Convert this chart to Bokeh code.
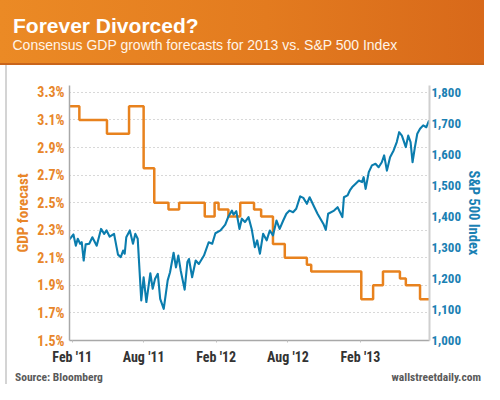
import numpy as np
from bokeh.plotting import figure
from bokeh.layouts import column
from bokeh.models import (Range1d, LinearAxis, FixedTicker, DatetimeTickFormatter,
                          NumeralTickFormatter, PrintfTickFormatter, Div)
from bokeh.embed import file_html
from bokeh.resources import INLINE

# ---------------- data ----------------
BASE_DATE = "2011-02-01"          # day offsets below are counted from this date

# consensus GDP growth forecast for 2013 (%), step series
gdp_days = [-7, 18, 88, 144, 181, 208, 244, 271, 336, 361, 371, 396, 426, 461, 479,
            509, 539, 595, 606, 733, 763, 788, 831, 846, 882, 907]
gdp_vals = [3.2, 3.1, 3.0, 3.2, 2.75, 2.5, 2.45, 2.5, 2.4, 2.5, 2.45, 2.4, 2.5, 2.45, 2.4,
            2.2, 2.1, 2.05, 2.0, 1.8, 1.9, 2.0, 1.95, 1.9, 1.8, 1.8]

# S&P 500 index level
sp_days = [-8, 3, 9, 14, 20, 24, 29, 34, 43, 51, 62, 73, 81, 87, 95, 106, 116, 123, 129, 133,
           137, 146, 154, 160, 166, 175, 181, 188, 198, 204, 210, 217, 223, 232, 242, 248, 257,
           263, 269, 275, 285, 292, 296, 304, 313, 321, 334, 346, 355, 363, 376, 388, 396, 405,
           409, 416, 424, 430, 438, 447, 455, 463, 469, 476, 484, 493, 501, 509, 518, 526, 535,
           543, 551, 560, 568, 578, 586, 595, 602, 614, 622, 637, 643, 649, 664, 673, 685, 689,
           698, 704, 710, 718, 727, 735, 739, 744, 752, 760, 769, 777, 785, 791, 798, 806, 815,
           823, 829, 836, 846, 852, 858, 863, 869, 875, 882, 890, 898, 905]
sp_vals = [1325, 1342, 1306, 1328, 1312, 1317, 1258, 1310, 1312, 1333, 1306, 1360, 1344, 1355,
           1335, 1344, 1277, 1269, 1290, 1280, 1333, 1355, 1312, 1344, 1328, 1129, 1204, 1124,
           1217, 1167, 1199, 1215, 1134, 1102, 1194, 1220, 1283, 1236, 1274, 1226, 1164, 1253,
           1263, 1204, 1258, 1247, 1274, 1317, 1312, 1346, 1355, 1374, 1400, 1419, 1406, 1417,
           1360, 1393, 1382, 1398, 1360, 1301, 1323, 1280, 1344, 1323, 1355, 1339, 1387, 1360,
           1387, 1409, 1419, 1414, 1425, 1465, 1460, 1441, 1462, 1430, 1409, 1376, 1357, 1409,
           1419, 1430, 1398, 1462, 1468, 1484, 1495, 1505, 1516, 1511, 1527, 1489, 1543, 1565,
           1570, 1559, 1575, 1597, 1548, 1591, 1613, 1640, 1672, 1661, 1624, 1661, 1640, 1575,
           1624, 1667, 1683, 1694, 1688, 1710]

x_tick_dates = ["2011-02-01", "2011-08-01", "2012-02-01", "2012-08-01", "2013-02-01"]
x_tick_labels = ["Feb '11", "Aug '11", "Feb '12", "Aug '12", "Feb '13"]
gdp_ticks = [1.5, 1.7, 1.9, 2.1, 2.3, 2.5, 2.7, 2.9, 3.1, 3.3]
sp_ticks = [1000, 1100, 1200, 1300, 1400, 1500, 1600, 1700, 1800]

title_text = "Forever Divorced?"
subtitle_text = "Consensus GDP growth forecasts for 2013 vs. S&amp;P 500 Index"
source_text = "Source: Bloomberg"
brand_text = "wallstreetdaily.com"

# ---------------- helpers ----------------
def days_to_ms(days):
    d = np.datetime64(BASE_DATE) + np.array(days, dtype="timedelta64[D]")
    return d.astype("datetime64[ms]").astype(np.int64).astype(float)

def dates_to_ms(dates):
    return np.array(dates, dtype="datetime64[D]").astype("datetime64[ms]").astype(np.int64).astype(float)

gdp_x = days_to_ms(gdp_days)
sp_x = days_to_ms(sp_days)
x_ticks_ms = dates_to_ms(x_tick_dates)
x_start, x_end = days_to_ms([-7, 906])

ORANGE = "#E8821E"
ORANGE_TXT = "#E8862A"
BLUE = "#0B7DAE"
BLUE_TXT = "#1A80B3"
COND = "Roboto Condensed, Noto Sans Condensed, Roboto"
COND_CSS = "'Roboto Condensed','Noto Sans Condensed',Roboto,sans-serif"
W = 484
HEAD_H, MAIN_H, FOOT_H = 65, 303, 16
CARD_EDGE = "linear-gradient(90deg,#ffffff 0px,#ffffff 5px,#d4d4d4 5px,#d4d4d4 7px,#ffffff 7px)"

# ---------------- header (HTML band) ----------------
header_html = (
    f'<div style="position:relative;width:{W}px;height:{HEAD_H}px;overflow:hidden;'
    'background:linear-gradient(90deg,#EB8A25 0%,#E37B1F 55%,#D8691A 100%);">'
    '<div style="position:absolute;left:0;right:0;bottom:0;height:2.5px;background:#C9651B;"></div>'
    '<div style="position:absolute;left:13px;top:15.2px;font:bold 21px/21px \'Liberation Sans\',sans-serif;'
    f'color:#ffffff;white-space:nowrap;">{title_text}</div>'
    '<div style="position:absolute;left:12.5px;top:37.6px;font:14px/14px \'Liberation Sans\',sans-serif;'
    f'color:#FFF4E8;white-space:nowrap;">{subtitle_text}</div>'
    '</div>')
head = Div(text=header_html, width=W, height=HEAD_H, margin=0)

# ---------------- main chart ----------------
p = figure(width=W, height=MAIN_H, output_backend="svg", toolbar_location=None,
           x_axis_type="datetime",
           x_range=Range1d(x_start, x_end), y_range=Range1d(1.5, 3.35),
           min_border_left=69, min_border_right=51, min_border_top=20, min_border_bottom=28,
           background_fill_color="white", border_fill_color="white", border_fill_alpha=0,
           outline_line_color=None, styles={"background": CARD_EDGE})
p.extra_y_ranges = {"sp": Range1d(1000, 1822.6)}

ax = p.xaxis[0]
ax.ticker = FixedTicker(ticks=list(x_ticks_ms))
ax.formatter = DatetimeTickFormatter(months="%b '%y", days="%b '%y", years="%b '%y")
ax.major_label_overrides = {float(t): lab for t, lab in zip(x_ticks_ms, x_tick_labels)}
ax.axis_line_color = "#A8A8A8"
ax.axis_line_width = 1.5
ax.major_tick_in = 0
ax.major_tick_out = 2
ax.major_tick_line_color = "#C0C0C0"
ax.minor_tick_line_color = None
ax.major_label_text_color = "#333333"
ax.major_label_text_font = COND
ax.major_label_text_font_style = "bold"
ax.major_label_text_font_size = "14px"
ax.major_label_standoff = 6

ay = p.yaxis[0]
ay.ticker = FixedTicker(ticks=gdp_ticks)
ay.formatter = PrintfTickFormatter(format="%.1f%%")
ay.axis_line_color = "#A8A8A8"
ay.axis_line_width = 1.5
ay.major_tick_in = 0
ay.major_tick_out = 0
ay.major_tick_line_color = None
ay.minor_tick_line_color = None
ay.major_label_text_color = ORANGE_TXT
ay.major_label_text_font = COND
ay.major_label_text_font_style = "bold"
ay.major_label_text_font_size = "14px"
ay.major_label_standoff = 5
ay.axis_label = "GDP forecast"
ay.axis_label_text_color = ORANGE_TXT
ay.axis_label_text_font = COND
ay.axis_label_text_font_style = "bold"
ay.axis_label_text_font_size = "15px"
ay.axis_label_standoff = 2

ar = LinearAxis(y_range_name="sp", ticker=FixedTicker(ticks=sp_ticks),
                formatter=NumeralTickFormatter(format="0,0"))
ar.axis_line_color = "#CFCFCF"
ar.axis_line_width = 2
ar.major_tick_in = 0
ar.major_tick_out = 0
ar.major_tick_line_color = None
ar.minor_tick_line_color = None
ar.major_label_text_color = BLUE_TXT
ar.major_label_text_font = COND
ar.major_label_text_font_style = "bold"
ar.major_label_text_font_size = "13px"
ar.major_label_standoff = 2
ar.axis_label = "S&P 500 Index"
ar.axis_label_text_color = BLUE_TXT
ar.axis_label_text_font = COND
ar.axis_label_text_font_style = "bold"
ar.axis_label_text_font_size = "14.5px"
ar.axis_label_standoff = 1
p.add_layout(ar, "right")

p.xgrid.visible = False
p.ygrid.ticker = FixedTicker(ticks=gdp_ticks[1:])
p.ygrid.grid_line_color = "#B0B0B0"
p.ygrid.grid_line_dash = "1 3"
p.ygrid.grid_line_width = 1

p.step(gdp_x, gdp_vals, mode="after", line_color=ORANGE, line_width=2.5)
p.line(sp_x, sp_vals, y_range_name="sp", line_color=BLUE, line_width=2.1, line_join="round")

# ---------------- footer (HTML band) ----------------
footer_html = (
    f'<div style="position:relative;width:{W}px;height:{FOOT_H}px;overflow:visible;background:{CARD_EDGE};">'
    f'<div style="position:absolute;left:15px;top:3.5px;font:bold 11.5px/11.5px {COND_CSS};'
    f'color:#5A5A5A;white-space:nowrap;">{source_text}</div>'
    f'<div style="position:absolute;right:3px;top:3.5px;font:bold 11.5px/11.5px {COND_CSS};'
    f'color:#5A5A5A;white-space:nowrap;">{brand_text}</div>'
    '</div>')
foot = Div(text=footer_html, width=W, height=FOOT_H, margin=0)

layout = column(head, p, foot, spacing=0)
open("out.html", "w").write(file_html(layout, INLINE))
